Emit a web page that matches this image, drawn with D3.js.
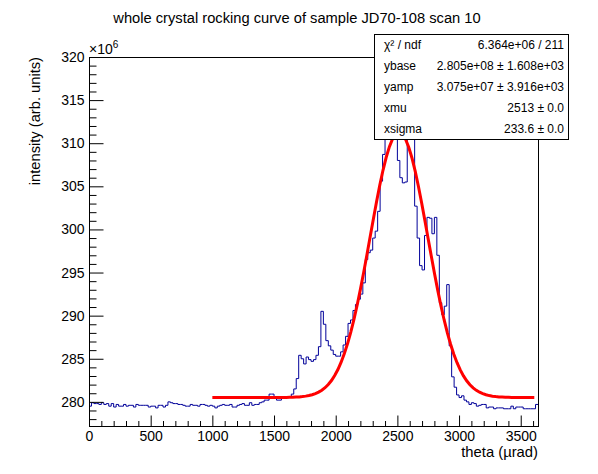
<!DOCTYPE html>
<html><head><meta charset="utf-8">
<script src="https://cdn.jsdelivr.net/npm/d3@7"></script>
<style>body{margin:0;background:#fff}svg{display:block}text{font-family:"Liberation Sans",Arial,Helvetica,sans-serif}</style>
</head><body><svg id="c" width="598" height="474"></svg>
<script>
// ---- data ----
const chartTitle = "whole crystal rocking curve of sample JD70-108 scan 10";
const xTitle = "theta (\u00b5rad)";
const yTitle = "intensity (arb. units)";
const xRange = [0, 3640];
const yRange = [277.2, 320];          // in units of 1e6
const binWidth = 20;                  // bins start at xRange[0]
const counts = [                       // bin contents, units of 1e6
  279.5,279.9,279.8,279.8,279.7,279.9,279.7,279.8,279.5,279.8,
  279.4,279.7,279.5,279.5,279.7,279.5,279.6,279.6,279.4,279.7,
  279.6,279.6,279.6,279.6,279.4,279.5,279.5,279.3,279.6,279.6,
  279.4,279.6,280.0,279.9,279.8,279.8,279.7,279.7,279.6,279.5,
  279.5,279.7,279.6,279.6,279.5,279.7,279.7,279.6,279.5,279.6,
  279.5,279.3,279.5,279.6,279.7,279.6,279.6,279.7,279.4,279.4,
  279.6,279.7,279.8,279.6,279.6,279.9,279.6,279.7,279.7,279.9,
  280.0,280.2,280.2,280.9,280.9,280.4,280.2,280.2,280.4,280.4,
  280.6,280.6,280.9,281.5,282.7,285.4,285.0,284.4,285.2,284.9,
  284.7,284.9,285.4,286.4,290.5,289.0,287.1,286.5,286.0,285.5,
  285.3,285.3,285.8,286.6,287.6,289.1,289.5,290.6,291.3,291.9,
  292.5,293.8,296.5,297.3,297.6,299.0,299.8,302.1,305.6,308.7,
  311.5,312.5,313.0,313.2,312.8,308.0,306.0,305.4,305.5,311.8,
  312.5,312.0,302.7,299.0,295.8,295.3,299.3,301.4,301.3,299.5,
  301.4,297.0,291.5,290.1,291.1,293.6,286.5,282.9,281.7,280.8,
  280.5,280.7,280.2,280.0,279.7,279.9,279.8,279.5,279.6,279.7,
  279.7,279.3,279.4,279.4,279.2,279.3,279.3,279.3,279.2,279.2,
  279.2,279.5,279.2,279.4,279.4,279.4,279.2,279.2,279.2,279.2,
  279.2,279.7
];
const xMajorTicks = [0,500,1000,1500,2000,2500,3000,3500];
const xMinorStep = 100;
const yMajorTicks = [280,285,290,295,300,305,310,315,320];
const yMinorStep = 1;
const yExponent = "6";
// fit: ybase + yamp*exp(-0.5*((x-xmu)/xsigma)^2)
const fitParamNames = ["ybase","yamp","xmu","xsigma"];
const fitParamValues = [2.805e8, 3.075e7, 2513, 233.6];
const fitRange = [1000, 3610];
const statLabels = ["\u03c7\u00b2 / ndf","ybase","yamp","xmu","xsigma"];
const statValues = ["6.364e+06 / 211","2.805e+08 \u00b1 1.608e+03","3.075e+07 \u00b1 3.916e+03","2513 \u00b1 0.0","233.6 \u00b1 0.0"];

// ---- drawing ----
const svg = d3.select("#c");
const F = {l:89, r:538, t:57, b:426};
const x = d3.scaleLinear().domain(xRange).range([F.l, F.r]);
const y = d3.scaleLinear().domain(yRange).range([F.b, F.t]);

// histogram
const pts = [];
counts.forEach((v,i)=>{
  const x0 = xRange[0] + i*binWidth, x1 = Math.min(x0+binWidth, xRange[1]);
  pts.push([x0,v],[x1,v]);
});
svg.append("clipPath").attr("id","fr").append("rect")
  .attr("x",F.l).attr("y",F.t).attr("width",F.r-F.l).attr("height",F.b-F.t);
svg.append("path").datum(pts)
  .attr("d", d3.line().x(d=>x(d[0])).y(d=>y(d[1])))
  .attr("fill","none").attr("stroke","#000099").attr("stroke-width",1)
  .attr("clip-path","url(#fr)");

// fit curve
const [yb, ya, mu, sg] = fitParamValues;
const fitPts = d3.range(0, 101).map(k=>{
  const xv = fitRange[0] + (fitRange[1]-fitRange[0])*k/100;
  return [xv, (yb + ya*Math.exp(-0.5*((xv-mu)/sg)**2))/1e6];
});
svg.append("path").datum(fitPts)
  .attr("d", d3.line().x(d=>x(d[0])).y(d=>y(d[1])))
  .attr("fill","none").attr("stroke","#ff0000").attr("stroke-width",3)
  .attr("clip-path","url(#fr)");

// frame
svg.append("rect").attr("x",F.l+0.5).attr("y",F.t+0.5)
  .attr("width",F.r-F.l).attr("height",F.b-F.t)
  .attr("fill","none").attr("stroke","#000").attr("stroke-width",1);

// axes
const fs = 14;
const xMinor = d3.range(xRange[0], xRange[1]+1e-9, xMinorStep).filter(v=>!xMajorTicks.includes(v));
const yMinor = d3.range(Math.ceil(yRange[0]), yRange[1]+1e-9, yMinorStep).filter(v=>!yMajorTicks.includes(v));
function styleAxis(g){ g.select(".domain").remove(); g.selectAll("line").attr("stroke","#000"); g.selectAll("text").attr("font-size",fs).attr("fill","#000").attr("font-family","Liberation Sans, Arial, sans-serif"); }
svg.append("g").attr("transform",`translate(0,${F.b+0.5})`)
  .call(d3.axisBottom(x).tickValues(xMinor).tickSize(-5.5).tickFormat("")).call(styleAxis);
svg.append("g").attr("transform",`translate(0,${F.b+0.5})`)
  .call(d3.axisBottom(x).tickValues(xMajorTicks).tickSize(-11).tickPadding(5).tickFormat(d3.format("d"))).call(styleAxis);
svg.append("g").attr("transform",`translate(${F.l+0.5},0)`)
  .call(d3.axisLeft(y).tickValues(yMinor).tickSize(-7).tickFormat("")).call(styleAxis);
svg.append("g").attr("transform",`translate(${F.l+0.5},0)`)
  .call(d3.axisLeft(y).tickValues(yMajorTicks).tickSize(-14).tickPadding(5).tickFormat(d3.format("d"))).call(styleAxis);

// exponent
const ex = svg.append("text").attr("x",F.l).attr("y",54).attr("font-size",14);
ex.append("tspan").text("\u00d710");
ex.append("tspan").attr("dy",-6).attr("font-size",10).text(yExponent);

// titles
svg.append("text").attr("x",297).attr("y",23).attr("text-anchor","middle").attr("font-size",14.7).text(chartTitle);
svg.append("text").attr("x",F.r).attr("y",456.5).attr("text-anchor","end").attr("font-size",14.8).text(xTitle);
svg.append("text").attr("transform",`translate(40,${F.t}) rotate(-90)`).attr("text-anchor","end").attr("font-size",14.7).text(yTitle);

// stats box
const B = {x:374, y:34, w:194, rowH:21};
svg.append("rect").attr("x",B.x+0.5).attr("y",B.y+0.5).attr("width",B.w).attr("height",B.rowH*statLabels.length)
  .attr("fill","#fff").attr("stroke","#000").attr("stroke-width",1);
statLabels.forEach((lab,i)=>{
  const by = B.y + B.rowH*i + B.rowH/2 + 4.5;
  svg.append("text").attr("x",B.x+10).attr("y",by).attr("font-size",12).text(lab);
  svg.append("text").attr("x",B.x+B.w-4).attr("y",by).attr("text-anchor","end").attr("font-size",12).text(statValues[i]);
});
</script></body></html>
